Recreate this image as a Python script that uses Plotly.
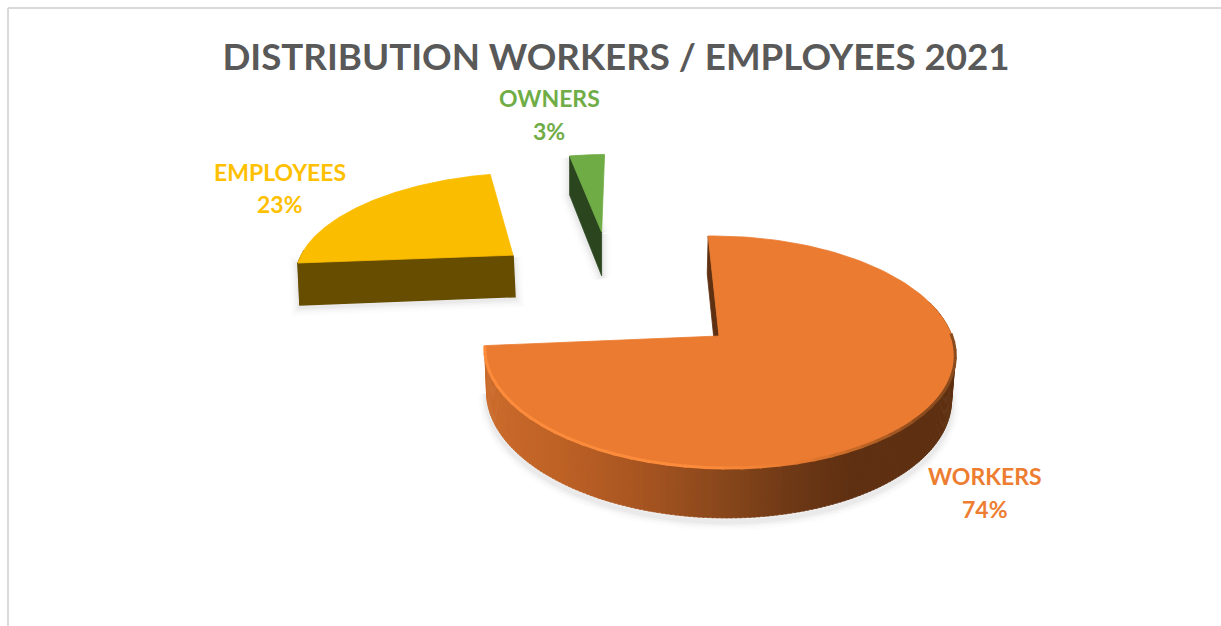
import numpy as np
import plotly.graph_objects as go

# ---- data ----
categories = ["WORKERS", "EMPLOYEES", "OWNERS"]
values = [74, 23, 3]
title_text = "DISTRIBUTION WORKERS / EMPLOYEES 2021"

# ---- style ----
top_colors = ["#EA7B30", "#FBBD00", "#6FAC46"]
face_colors = ["#5F3011", "#664D00", "#2B461E"]
label_colors = ["#ED7D31", "#FFC000", "#70AD47"]
label_pos = [(985, 476, 509), (280, 172, 204), (549, 98, 131)]
FONT = "Lato, Carlito, Calibri, sans-serif"

# ---- simple perspective camera, in pixel-sized plot units ----
VX, VY, H, P = 665.0, -489.0, 825.0, 0.138
START = -1.2
piece_center = [(54.0, 0.0), (-168.5, 0.787), (-72.5, 1.045)]
piece_radius = [233.0, 235.0, 238.0]
piece_depth = [43.0, 46.0, 50.0]
piece_dx = [-1.0, 2.0, 0.0]       # sideways shift of the lower plane
bottom_scale = [0.988, 1.0, 1.0]  # radius of the lower plane


def proj(X, Y, z=0.0):
    f = 1.0 / (1.0 + P * np.asarray(Y, float))
    return VX + np.asarray(X, float) * f, VY + (H + z) * f


def rim(i, a, lower=False):
    c = piece_center[i]
    r = piece_radius[i] * (bottom_scale[i] if lower else 1.0)
    a = np.radians(np.asarray(a, float))
    x, y = proj(c[0] + r * np.sin(a), c[1] + np.cos(a), piece_depth[i] if lower else 0.0)
    return x + (piece_dx[i] if lower else 0.0), y


def tip(i, lower=False):
    c = piece_center[i]
    x, y = proj(c[0], c[1], piece_depth[i] if lower else 0.0)
    return x + (piece_dx[i] if lower else 0.0), y


def hexrgb(h):
    return np.array([int(h[i:i + 2], 16) for i in (1, 3, 5)], float)


def lerp_stops(x, stops):
    xs = [s[0] for s in stops]
    cs = np.array([s[1] for s in stops], float)
    return "rgb(%d,%d,%d)" % tuple(np.interp(x, xs, cs[:, i]) for i in range(3))


fig = go.Figure()


def poly(xs, ys, color, lw=0.8):
    fig.add_trace(go.Scatter(x=list(xs), y=list(ys), mode="lines", fill="toself",
                             fillcolor=color, line=dict(color=color, width=lw),
                             hoverinfo="skip", showlegend=False))


def stroke(xs, ys, color, lw):
    fig.add_trace(go.Scatter(x=list(xs), y=list(ys), mode="lines",
                             line=dict(color=color, width=lw),
                             hoverinfo="skip", showlegend=False))


def shadow(xs, ys, dy=3):
    xs = np.asarray(xs)
    ys = np.asarray(ys) + dy
    for w, o in ((18, .012), (13, .016), (9, .022), (5, .03)):
        stroke(xs, ys, f"rgba(0,0,0,{o})", w)


# slice angle spans, clockwise from the top, from the values
total = sum(values)
spans = []
acc = START
for v in values:
    spans.append((acc, acc + 360.0 * v / total))
    acc += 360.0 * v / total


def wedge_top(i):
    a = np.linspace(spans[i][0], spans[i][1], 160)
    x, y = rim(i, a)
    tx, ty = tip(i)
    return np.r_[tx, x, tx], np.r_[ty, y, ty]


def radial_face(i, angle):
    tx, ty = tip(i)
    bx, by = tip(i, True)
    ox, oy = rim(i, angle)
    px, py = rim(i, angle, True)
    return [tx, ox, px, bx, tx], [ty, oy, py, by, ty]


# ---- owners ----
xs, ys = radial_face(2, spans[2][0])
shadow(xs, ys, 2)
poly(xs, ys, face_colors[2])
xs, ys = wedge_top(2)
poly(xs, ys, top_colors[2])

# ---- employees ----
xs, ys = radial_face(1, spans[1][0])
shadow(xs, ys, 2)
poly(xs, ys, face_colors[1], lw=1.5)
a = np.linspace(spans[1][0] + 8, spans[1][0], 10)
x0, y0 = rim(1, a)
x1, y1 = rim(1, a, True)
poly(np.r_[x0, x1[::-1]], np.r_[y0, y1[::-1]], face_colors[1])
xs, ys = wedge_top(1)
poly(xs, ys, top_colors[1])

# ---- workers ----
a = np.linspace(spans[0][1], 60, 200)
bx, by = rim(0, a, True)
shadow(bx, by, 4)
xs, ys = radial_face(0, spans[0][0])
poly(xs, ys, face_colors[0])

rim_stops = [
    (484, (204, 108, 44)), (560, (190, 98, 38)), (650, (165, 84, 33)),
    (730, (135, 70, 27)), (800, (108, 56, 22)), (850, (96, 49, 18)), (960, (94, 48, 17)),
]
edges = np.arange(spans[0][1], 72, -1.0)
for a0, a1 in zip(edges[:-1], edges[1:]):
    x0, y0 = rim(0, [a0, a1 - 0.4])
    x1, y1 = rim(0, [a0, a1 - 0.4], True)
    col = lerp_stops(float(np.mean(x0)), rim_stops)
    poly(np.r_[x0, x1[::-1]], np.r_[y0, y1[::-1]], col, lw=0.6)

xs, ys = wedge_top(0)
poly(xs, ys, top_colors[0])

# bevel: light edge on the left of the front, dark edge on the right
hi_top = hexrgb("#EA7B30")
hi_light = hexrgb("#FC8C3C")
hi_dark = hexrgb("#8A4B1E")
edges = np.arange(spans[0][1], 88, -4.0)
for a0, a1 in zip(edges[:-1], edges[1:]):
    mid = (a0 + a1) / 2
    if mid > 185:
        col = hi_light
    elif mid > 165:
        col = hi_top + (hi_light - hi_top) * (mid - 165) / 20
    else:
        col = hi_top + (hi_dark - hi_top) * min(1.0, (165 - mid) / 35)
    sub = np.linspace(a0, a1 - 0.5, 4)
    x0, y0 = rim(0, sub)
    stroke(x0, y0, "rgb(%d,%d,%d)" % tuple(col), 3)

# ---- layout ----
annotations = []
for name, v, col, (lx, ly1, ly2) in zip(categories, values, label_colors, label_pos):
    annotations.append(dict(x=lx, y=ly1, xref="x", yref="y", text=f"<b>{name}</b>", showarrow=False,
                            font=dict(family=FONT, size=23, color=col), xanchor="center", yanchor="middle"))
    annotations.append(dict(x=lx, y=ly2, xref="x", yref="y", text=f"<b>{round(100 * v / total)}%</b>", showarrow=False,
                            font=dict(family=FONT, size=23, color=col), xanchor="center", yanchor="middle"))

fig.update_layout(
    width=1221, height=626,
    margin=dict(l=0, r=0, t=0, b=0),
    paper_bgcolor="white", plot_bgcolor="white",
    showlegend=False,
    title=dict(text=f"<b>{title_text}</b>", x=616 / 1221, xanchor="center",
               y=1 - 57 / 626, yanchor="middle", yref="container",
               font=dict(family=FONT, size=36.7, color="#595959")),
    xaxis=dict(range=[0, 1221], visible=False, fixedrange=True),
    yaxis=dict(range=[626, 0], visible=False, fixedrange=True),
    annotations=annotations,
    shapes=[
        dict(type="line", xref="x", yref="y", x0=8, x1=1221, y0=8, y1=8, line=dict(color="#D9D9D9", width=2), layer="below"),
        dict(type="line", xref="x", yref="y", x0=8, x1=8, y0=8, y1=626, line=dict(color="#D9D9D9", width=2), layer="below"),
    ],
)

fig.write_html("out.html", config={"displayModeBar": False},
               post_script="document.body.style.margin='0';document.body.style.overflow='hidden';")
